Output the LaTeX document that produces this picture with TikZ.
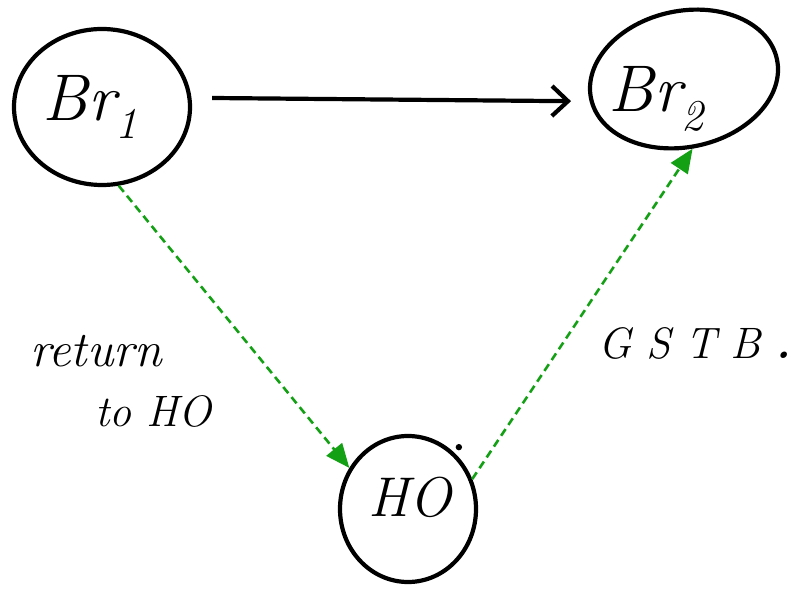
\documentclass[tikz,border=0pt]{standalone}
\usetikzlibrary{shapes.geometric,arrows.meta,calc}
\definecolor{dgreen}{RGB}{20,160,20}
\newcommand{\lowsub}[1]{\raisebox{-0.28em}{\fontsize{44}{48}\selectfont #1}}
\tikzset{
  ring/.style={draw=black, line width=4.2pt, ellipse, inner sep=0pt},
  hand/.style={font=\fontsize{66}{72}\selectfont\itshape, inner sep=0pt},
  note/.style={font=\fontsize{50}{56}\selectfont\itshape, inner sep=0pt},
  flow/.style={draw=black, line width=4.2pt, -{Straight Barb[length=16pt,width=30pt]}},
  link/.style={draw=dgreen, line width=2.6pt, dash pattern=on 8pt off 5pt, -{Triangle[length=24pt,width=20pt]}}
}
\begin{document}
\begin{tikzpicture}[x=1pt,y=1pt]
\useasboundingbox (0,0) rectangle (791,589);
% nodes
\node[ring, minimum width=176pt, minimum height=156pt] (br1) at (102,482) {};
\node[ring, minimum width=190pt, minimum height=136pt, rotate=12] (br2) at (684,510) {};
\node[ring, minimum width=136pt, minimum height=146pt] (ho) at (408,80) {};
\node[hand] (t1) at (90,482) {Br\lowsub{1}};
\node[hand] (t2) at (656,490) {Br\lowsub{2}};
\node[hand, font=\fontsize{56}{60}\selectfont\itshape] (t3) at (410,92) {HO};
\node[note, anchor=west] (n1) at (30,238) {return};
\node[note, font=\fontsize{44}{50}\selectfont\itshape, anchor=west] (n2) at (95,178) {to HO};
\node[note, font=\fontsize{44}{50}\selectfont\itshape, anchor=west] (n3) at (598,246) {G\,\,S\,\,T\,\,B\,\,\textbf{.}};
\fill (ho.50) ++(4,6) circle (3.2pt);
% connectors
\draw[flow] ($(br1.east)+(20,9)$) -- ($(br2.west)+(-18,-2)$);
\draw[link] (br1.-78) -- (ho.145);
\draw[link] (ho.25) -- (br2.-95);
\end{tikzpicture}
\end{document}
